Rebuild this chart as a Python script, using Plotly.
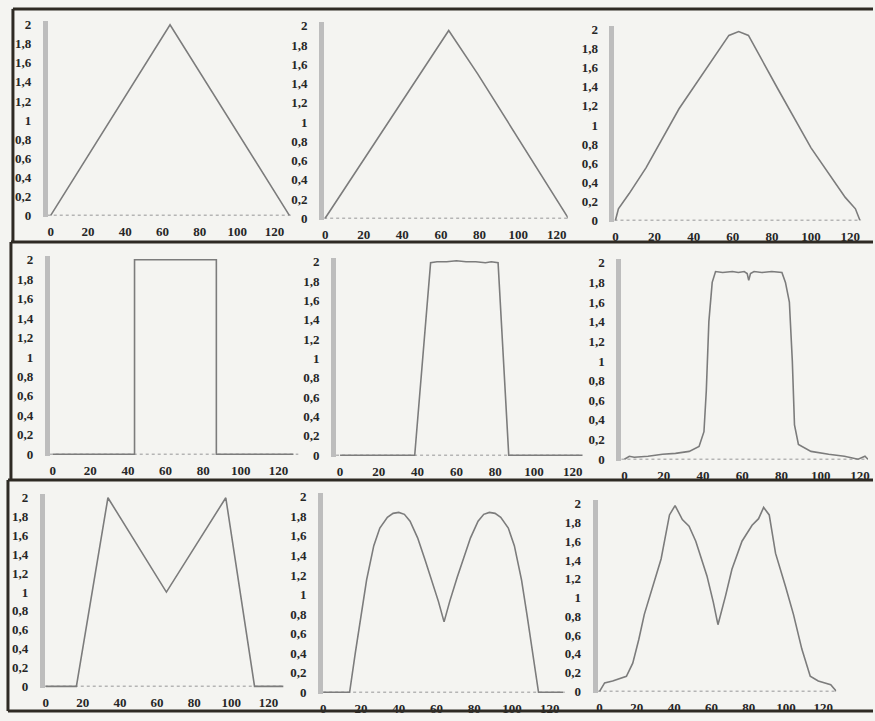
import plotly.graph_objects as go

W, H = 875, 721

# ---------------- data ----------------
X_TICKS = [0, 20, 40, 60, 80, 100, 120]
X_LABELS = ["0", "20", "40", "60", "80", "100", "120"]
Y_TICKS = [0, 0.2, 0.4, 0.6, 0.8, 1, 1.2, 1.4, 1.6, 1.8, 2]
Y_LABELS = ["0", "0,2", "0,4", "0,6", "0,8", "1", "1,2", "1,4", "1,6", "1,8", "2"]

x_p1 = [0, 64, 128]
y_p1 = [0, 2, 0]

x_p2 = [0, 53, 64, 79, 126]
y_p2 = [0, 1.62, 1.95, 1.5, 0]

x_p3 = [0, 1.5, 7, 15.6, 32.5, 49.5, 58, 63, 68, 83, 100, 117.5, 122.7, 125]
y_p3 = [0, 0.12, 0.28, 0.55, 1.17, 1.69, 1.94, 1.98, 1.94, 1.38, 0.76, 0.24, 0.12, 0]

x_p4 = [0, 43.5, 43.5, 87, 87, 128]
y_p4 = [0, 0, 2, 2, 0, 0]

x_p5 = [0, 38.5, 46.7, 50, 55, 60, 65, 70, 75, 78, 81.5, 87, 125]
y_p5 = [0, 0, 1.99, 2.0, 2.0, 2.01, 2.0, 2.0, 1.99, 2.0, 1.99, 0, 0]

x_p6 = [0, 2.5, 5, 12, 19.4, 26, 33, 38, 40.5, 41.7, 43, 44.7, 46.4, 50, 55, 58, 61,
        62.5, 63.3, 64.2, 66, 70, 75, 80.2, 82, 84, 85.5, 86.6, 88.6, 95, 104, 112,
        119, 121, 122.5, 124]
y_p6 = [0, 0.03, 0.02, 0.03, 0.05, 0.06, 0.08, 0.13, 0.28, 0.7, 1.4, 1.8, 1.91, 1.9,
        1.91, 1.9, 1.91, 1.89, 1.82, 1.89, 1.91, 1.9, 1.91, 1.9, 1.8, 1.6, 1.0, 0.35,
        0.15, 0.08, 0.05, 0.03, 0.0, 0.02, 0.03, 0.0]

x_p7 = [0, 16.5, 33.5, 65, 97, 112.5, 128]
y_p7 = [0, 0, 2, 1, 2, 0, 0]

x_p8 = [0, 14, 17, 20, 23, 26.8, 30, 34, 37, 40, 43, 46, 50, 54, 57, 61, 64,
        67, 71, 74, 78, 82, 85, 88, 91, 94, 98, 101.2, 105, 108, 111, 114, 127]
y_p8 = [0, 0, 0.4, 0.78, 1.15, 1.5, 1.68, 1.79, 1.83, 1.84, 1.82, 1.75, 1.58, 1.35,
        1.18, 0.93, 0.72, 0.93, 1.18, 1.35, 1.58, 1.75, 1.82, 1.84, 1.83, 1.79, 1.68,
        1.5, 1.15, 0.78, 0.4, 0, 0]

x_p9 = [0, 2.7, 7, 14.4, 17.8, 21, 24, 27.6, 33, 37.5, 40.5, 44.4, 48, 51.6, 57.6, 61,
        63.5, 67.6, 71, 76.4, 81.8, 85.3, 88, 91, 94.4, 99.7, 104, 108.5, 113, 117.3,
        124, 127]
y_p9 = [0, 0.09, 0.11, 0.16, 0.3, 0.55, 0.82, 1.05, 1.41, 1.88, 1.98, 1.83, 1.76, 1.6,
        1.23, 0.95, 0.71, 1.02, 1.3, 1.6, 1.77, 1.84, 1.96, 1.88, 1.47, 1.12, 0.82, 0.45,
        0.16, 0.11, 0.07, 0]

series = [(x_p1, y_p1), (x_p2, y_p2), (x_p3, y_p3),
          (x_p4, y_p4), (x_p5, y_p5), (x_p6, y_p6),
          (x_p7, y_p7), (x_p8, y_p8), (x_p9, y_p9)]

# ---------------- layout: pixel anchors of each panel ----------------
# (y-axis bar x, px of x=0, px of x=120, px of axis end, py of y=0, py of y=2)
boxes = [
    (45, 48, 273, 290, 215, 22),
    (323, 324, 557, 568, 218, 23),
    (615, 616, 852, 863, 220, 27),
    (47, 50, 277, 297, 457, 260),
    (335, 339, 573, 583, 458, 262),
    (622, 625, 862, 870, 462, 263),
    (42, 43, 267, 283, 692, 501),
    (322, 322, 550, 565, 698, 500),
    (598, 600, 825, 838, 697, 507),
]

tickfont = dict(family="Liberation Serif", size=13, color="#262626", weight="bold")
LINE_COLOR = "#7c7c7c"

fig = go.Figure()
shapes = []
for i, ((xs, ys), (al, x0, x120, xe, y0, y2)) in enumerate(zip(series, boxes)):
    n = i + 1
    sfx = "" if n == 1 else str(n)
    s = (x120 - x0) / 120.0
    t = (y0 - y2) / 2.0
    xmin = (al - x0) / s
    xmax = (xe - x0) / s
    ybot = y0 + 2
    ytop = y2 - 4
    ymin = -(ybot - y0) / t
    ymax = 2 + (y2 - ytop) / t

    fig.add_trace(go.Scatter(x=xs, y=ys, mode="lines",
                             line=dict(color=LINE_COLOR, width=1.6),
                             xaxis="x" + sfx, yaxis="y" + sfx,
                             showlegend=False, hoverinfo="skip"))
    fig.update_layout(**{
        "xaxis" + sfx: dict(domain=[al / W, xe / W], range=[xmin, xmax],
                           anchor="y" + sfx, tickvals=X_TICKS, ticktext=X_LABELS,
                           showgrid=False, zeroline=False, showline=False, ticks="",
                           tickfont=tickfont, ticklabelstandoff=5, fixedrange=True),
        "yaxis" + sfx: dict(domain=[1 - ybot / H, 1 - ytop / H], range=[ymin, ymax],
                           anchor="x" + sfx, tickvals=Y_TICKS, ticktext=Y_LABELS,
                           showgrid=False, zeroline=False, showline=True,
                           linecolor="#bdbdbd", linewidth=5, ticks="",
                           tickfont=tickfont, ticklabelstandoff=9, fixedrange=True),
    })
    shapes.append(dict(type="line", xref="x" + sfx + " domain", yref="y" + sfx,
                       x0=0, x1=1, y0=0, y1=0,
                       line=dict(color="#b5b5b5", width=1.5, dash="dot"),
                       layer="below"))

# frame lines of the scanned rows
FRAME = "#2e2a24"
def hline(py, px0, px1):
    return dict(type="line", xref="paper", yref="paper", x0=px0 / W, x1=px1 / W,
                y0=1 - py / H, y1=1 - py / H, line=dict(color=FRAME, width=3))
def vline(px, py0, py1):
    return dict(type="line", xref="paper", yref="paper", x0=px / W, x1=px / W,
                y0=1 - py0 / H, y1=1 - py1 / H, line=dict(color=FRAME, width=3))

shapes += [hline(6, 10, 875), hline(242, 8, 875), hline(483, 5, 875), hline(717, 5, 875),
           vline(10, 6, 242), vline(8, 242, 483), vline(5, 483, 717)]

fig.update_layout(width=W, height=H, margin=dict(l=0, r=0, t=0, b=0),
                  paper_bgcolor="#f4f4f1", plot_bgcolor="rgba(0,0,0,0)",
                  shapes=shapes, showlegend=False)

fig.write_html("out.html", config={"displayModeBar": False})
